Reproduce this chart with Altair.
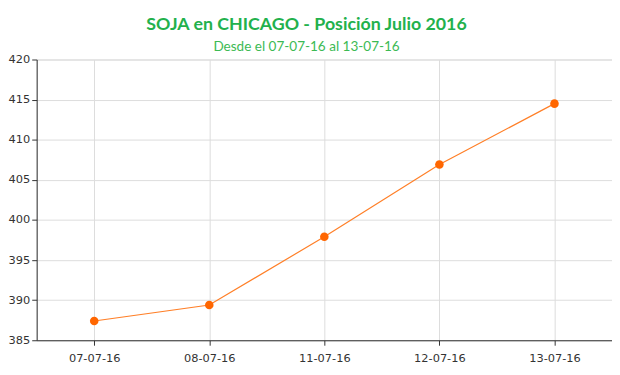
import altair as alt
import pandas as pd

fechas = ["07-07-16", "08-07-16", "11-07-16", "12-07-16", "13-07-16"]
precios = [387.4, 389.4, 397.9, 406.9, 414.5]
y_ticks = [385, 390, 395, 400, 405, 410, 415, 420]

df = pd.DataFrame({"fecha": fechas, "precio": precios})

base = alt.Chart(df).encode(
    x=alt.X("fecha:N", sort=fechas, title=None,
            scale=alt.Scale(type="point", padding=0.5),
            axis=alt.Axis(labelAngle=0, grid=True, gridColor="#dddddd",
                          domainColor="#333333", tickColor="#333333",
                          tickSize=5, labelPadding=7, labelFont="DejaVu Sans",
                          labelFontSize=11.5, labelColor="#333333")),
    y=alt.Y("precio:Q", title=None,
            scale=alt.Scale(domain=[385, 420], nice=False, zero=False),
            axis=alt.Axis(values=y_ticks, grid=True, gridColor="#dddddd",
                          domainColor="#333333", tickColor="#333333",
                          tickSize=5, labelPadding=2, labelFont="DejaVu Sans",
                          labelFontSize=11.5, labelColor="#333333")),
)

line = base.mark_line(color="#ff7f27", strokeWidth=1.2)
pts = base.mark_circle(color="#ff6600", size=75, opacity=1)

chart = (line + pts).properties(
    width=582,
    height=284,
    padding={"left": 29, "top": 50, "right": 0, "bottom": 30},
    autosize=alt.AutoSizeParams(type="none"),
    title=alt.TitleParams(
        text="SOJA en CHICAGO - Posición Julio 2016",
        subtitle="Desde el 07-07-16 al 13-07-16",
        font="Lato", fontSize=18, fontWeight="bold", color="#22b14c",
        subtitleFont="Lato", subtitleFontSize=13.7, subtitleColor="#3cba54",
        anchor="middle", dx=-18, offset=0, subtitlePadding=6,
    ),
).configure_view(stroke=None).configure(background="white")

chart.save("out.html", embed_options={"renderer": "svg", "actions": False})
